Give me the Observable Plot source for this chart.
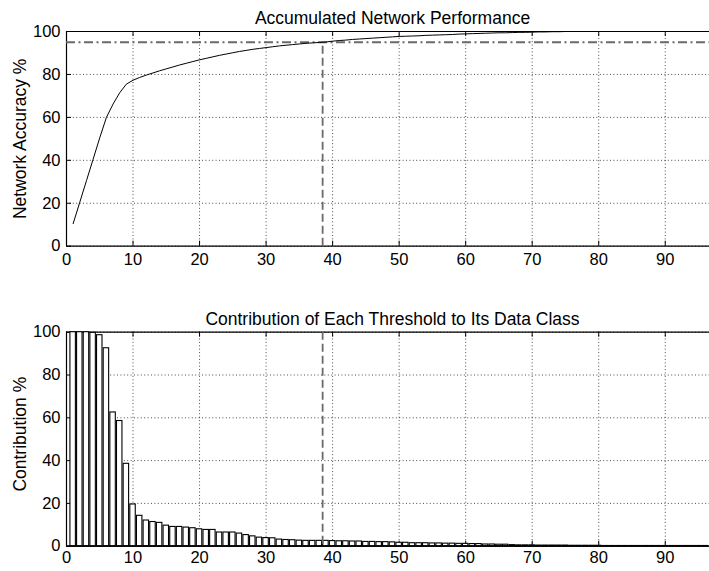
<!DOCTYPE html>
<html>
<head>
<meta charset="utf-8">
<script src="https://cdn.jsdelivr.net/npm/d3@7"></script>
<script src="https://cdn.jsdelivr.net/npm/@observablehq/plot@0.6"></script>
<style>
  html, body { margin: 0; padding: 0; background: #fff; overflow: hidden; }
  #chart svg { display: block; }
</style>
</head>
<body>
<div id="chart"></div>
<script>
// ---- data ----
const thresholds = d3.range(1, 97); // threshold index 1..96
const accuracy = [
  10.5, 20.5, 30.5, 40.5, 50.5, 60.0, 66.2, 71.5, 75.5, 77.3,
  78.6, 79.7, 80.7, 81.7, 82.6, 83.5, 84.4, 85.2, 86.0, 86.8,
  87.5, 88.2, 88.9, 89.5, 90.1, 90.7, 91.2, 91.7, 92.1, 92.5,
  92.9, 93.3, 93.6, 93.9, 94.2, 94.5, 94.7, 94.9, 95.1, 95.5,
  95.8, 96.0, 96.3, 96.5, 96.7, 96.9, 97.1, 97.3, 97.5, 97.7,
  97.8, 97.9, 98.0, 98.2, 98.3, 98.4, 98.5, 98.6, 98.8, 98.9,
  99.0, 99.1, 99.2, 99.3, 99.4, 99.4, 99.5, 99.6, 99.6, 99.7,
  99.8, 99.8, 99.9, 99.9, 100, 100, 100, 100, 100, 100,
  100, 100, 100, 100, 100, 100, 100, 100, 100, 100,
  100, 100, 100, 100, 100, 100
];
const contribution = [
  100, 100, 100, 99.7, 98.6, 92.5, 62.5, 58.5, 38.5, 19.5,
  14.2, 12.0, 11.3, 10.9, 9.6, 9.0, 9.0, 8.7, 8.4, 7.9,
  7.6, 7.6, 6.4, 6.4, 6.4, 5.9, 5.2, 4.6, 4.0, 3.8,
  3.7, 3.1, 2.9, 2.8, 2.6, 2.5, 2.5, 2.5, 2.5, 2.4,
  2.3, 2.3, 2.2, 2.2, 2.0, 2.0, 1.9, 1.9, 1.8, 1.6,
  1.6, 1.4, 1.4, 1.4, 1.3, 1.3, 1.2, 1.2, 1.1, 1.1,
  1.0, 1.0, 0.8, 0.8, 0.7, 0.7, 0.5, 0.4, 0.4, 0.4,
  0.3, 0.3, 0.3, 0.3, 0.3, 0.2, 0.2, 0.2, 0.2, 0.2,
  0.1, 0.1, 0.1, 0.1, 0.1, 0.1, 0.1, 0.1, 0.1, 0.1,
  0.1, 0.1, 0.1, 0.1, 0.1, 0.1
];
const accuracyTarget = 95;     // horizontal reference (%)
const cutoffThreshold = 38.5;  // vertical reference
const xTicks = [0, 10, 20, 30, 40, 50, 60, 70, 80, 90];
const yTicks = [0, 20, 40, 60, 80, 100];
const xDomain = [0, 96.65];
const yDomain = [0, 100];
const titles = ["Accumulated Network Performance", "Contribution of Each Threshold to Its Data Class"];
const yLabels = ["Network Accuracy %", "Contribution %"];

const accData = thresholds.map((t, i) => ({t, v: accuracy[i]}));
const conData = thresholds.map((t, i) => ({t, v: contribution[i]}));

// ---- style ----
const W = 709;
const FONT = "'Liberation Sans', Arial, Helvetica, sans-serif";
const gridStyle = {stroke: "#000", strokeOpacity: 0.7, strokeWidth: 1, strokeDasharray: "1,2.4"};
const refStroke = "#6a6a6a";
const TICK_FS = 16.5, LABEL_FS = 17.5;

function frameMarks(plotH, plotW, tickPad) {
  return [
    Plot.gridX(xTicks, gridStyle),
    Plot.gridY(yTicks, gridStyle),
    // inward ticks
    Plot.tickX(xTicks, {x: d => d, insetTop: plotH - 5, stroke: "#000"}),
    Plot.tickX(xTicks, {x: d => d, insetBottom: plotH - 5, stroke: "#000"}),
    Plot.tickY(yTicks, {y: d => d, insetRight: plotW - 5, stroke: "#000"}),
    // box
    Plot.ruleY(yDomain, {stroke: "#000", strokeWidth: 1.2}),
    Plot.ruleX(xDomain.slice(0, 1), {stroke: "#000", strokeWidth: 1.2}),
    Plot.axisX({ticks: xTicks, tickSize: 0, tickPadding: tickPad, label: null, fontSize: TICK_FS}),
    Plot.axisY({ticks: yTicks, tickSize: 0, tickPadding: 6, label: null, fontSize: TICK_FS})
  ];
}

// ---- top chart ----
const mL = 66, mR = 0;
const topH = 290, topMT = 31, topMB = 44.3;
const topChart = Plot.plot({
  width: W, height: topH,
  marginLeft: mL, marginRight: mR, marginTop: topMT, marginBottom: topMB,
  style: {fontFamily: FONT, fontSize: "16px", background: "#fff", color: "#000", overflow: "visible"},
  x: {domain: xDomain},
  y: {domain: yDomain},
  marks: [
    ...frameMarks(topH - topMT - topMB, W - mL - mR, 7),
    Plot.ruleY([accuracyTarget], {stroke: refStroke, strokeWidth: 1.8, strokeDasharray: "9,3.5,2,3.5"}),
    Plot.ruleX([cutoffThreshold], {y1: 0, y2: accuracyTarget, stroke: refStroke, strokeWidth: 1.8, strokeDasharray: "8,4"}),
    Plot.line(accData, {x: "t", y: "v", stroke: "#000", strokeWidth: 1}),
    Plot.text([titles[0]], {frameAnchor: "top", dy: -19.5, dx: 4.5, fontSize: LABEL_FS, fill: "#000"}),
    Plot.text([yLabels[0]], {frameAnchor: "left", textAnchor: "middle", lineAnchor: "middle", rotate: -90, dx: -46, fontSize: LABEL_FS, fill: "#000"})
  ]
});

// ---- bottom chart ----
const botH = 281, botMT = 41.7, botMB = 25.3;
const barHalf = 0.41;
const bottomChart = Plot.plot({
  width: W, height: botH,
  marginLeft: mL, marginRight: mR, marginTop: botMT, marginBottom: botMB,
  style: {fontFamily: FONT, fontSize: "16px", background: "#fff", color: "#000", overflow: "visible"},
  x: {domain: xDomain},
  y: {domain: yDomain},
  marks: [
    ...frameMarks(botH - botMT - botMB, W - mL - mR, 5),
    Plot.rectY(conData, {x1: d => d.t - barHalf, x2: d => d.t + barHalf, y1: 0, y2: "v", fill: "#fff", stroke: "#000", strokeWidth: 1.1}),
    Plot.ruleX([cutoffThreshold], {stroke: refStroke, strokeWidth: 1.8, strokeDasharray: "8,4"}),
    Plot.ruleY(yDomain.slice(0, 1), {stroke: "#000", strokeWidth: 1.2}),
    Plot.text([titles[1]], {frameAnchor: "top", dy: -20, dx: 4.5, fontSize: LABEL_FS, fill: "#000"}),
    Plot.text([yLabels[1]], {frameAnchor: "left", textAnchor: "middle", lineAnchor: "middle", rotate: -90, dx: -46, dy: -5, fontSize: LABEL_FS, fill: "#000"})
  ]
});

const chart = document.getElementById("chart");
chart.appendChild(topChart);
chart.appendChild(bottomChart);
</script>
</body>
</html>
